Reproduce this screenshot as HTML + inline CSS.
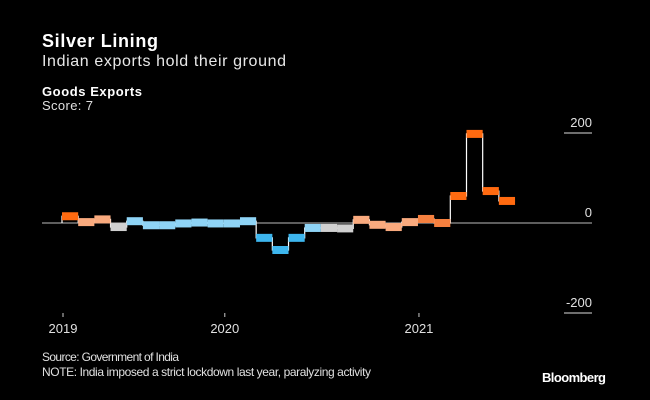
<!DOCTYPE html>
<html><head><meta charset="utf-8"><style>
html,body{margin:0;padding:0;background:#000;}
svg{display:block;font-family:"Liberation Sans",sans-serif;}
</style></head><body>
<svg width="650" height="400" viewBox="0 0 650 400">
<rect width="650" height="400" fill="#000"/>
<text x="42" y="47" fill="#fff" font-size="18" font-weight="bold" textLength="116">Silver Lining</text>
<text x="42" y="66" fill="#e8e8e8" font-size="16" textLength="244">Indian exports hold their ground</text>
<text x="42" y="96" fill="#fff" font-size="13" font-weight="bold" textLength="100">Goods Exports</text>
<text x="42" y="110" fill="#e0e0e0" font-size="13" textLength="51">Score: 7</text>
<g id="axes"></g>
<g id="plot"></g>
<text x="42" y="361" fill="#e0e0e0" font-size="12" textLength="137">Source: Government of India</text>
<text x="42" y="376" fill="#e0e0e0" font-size="12" textLength="329">NOTE: India imposed a strict lockdown last year, paralyzing activity</text>
<text x="542" y="382" fill="#fff" font-size="13" font-weight="bold" textLength="64">Bloomberg</text>
</svg>
<script>
const values=[15,2,8,-9,4,-5,-5,-1,1,-1,-1,4,-33,-60,-33,-11,-11,-12,7,-4,-9,2,9,0,60,198,71,49];
const levels=[5,3,3,2,1,1,1,1,1,1,1,1,0,0,0,1,2,2,3,3,3,3,4,4,5,5,5,5];
const yTicks=[200,0,-200];
const yTickLabels=["200","0","-200"];
const xTickIdx=[0,10,22];
const xTickLabels=["2019","2020","2021"];
const palette=["#3db6ee","#8fd4f6","#d0d0d0","#f9aa7e","#f5803f","#ff6a10"];
const NS="http://www.w3.org/2000/svg";
const x0=62,bw=16.18;
function xs(i){return x0+i*bw;}
function ys(v){return 223-v*0.45;}
const axes=document.getElementById('axes'),plot=document.getElementById('plot');
function mk(tag,attrs,parent){const e=document.createElementNS(NS,tag);for(const k in attrs)e.setAttribute(k,attrs[k]);parent.appendChild(e);return e;}
yTicks.forEach((t,i)=>{
  const y=ys(t);
  const ln=mk('line',{x1:t===0?42:564,x2:592,y1:y,y2:y,stroke:t===0?'#bbb':'#ddd','stroke-width':1},axes);
  
  
  const tx=mk('text',{x:592,y:y-6,fill:'#e0e0e0','font-size':13,'text-anchor':'end'},axes);
  tx.textContent=yTickLabels[i];
  
  
});
xTickIdx.forEach((idx,i)=>{
  const x=xs(idx)+1;
  const tk=mk('line',{x1:x,x2:x,y1:313,y2:317,stroke:'#ccc','stroke-width':1},axes);
  
  
  const tx=mk('text',{x:x,y:333,fill:'#e0e0e0','font-size':13,'text-anchor':'middle'},axes);
  tx.textContent=xTickLabels[i];
  
  
});
let d='M'+xs(0)+' '+ys(0);
values.forEach((v,i)=>{d+=' L'+xs(i)+' '+ys(v)+' L'+xs(i+1)+' '+ys(v);});
const step=mk('path',{d:d,fill:'none',stroke:'#fff','stroke-width':1.2},plot);


values.forEach((v,i)=>{
  const r=mk('rect',{x:xs(i),y:ys(v)-4,width:bw,height:8,fill:palette[levels[i]]},plot);
  
  
});
</script>
</body></html>
